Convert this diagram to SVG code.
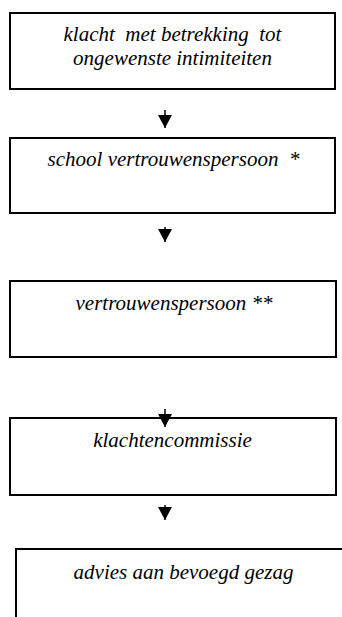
<svg xmlns="http://www.w3.org/2000/svg" width="342" height="617" viewBox="0 0 342 617">
  <style>
    .box { fill: #ffffff; stroke: #000000; stroke-width: 2; }
    .open { fill: none; stroke: #000000; stroke-width: 2; }
    .lbl { font-style: italic; font-size: 21px; fill: #000000; text-anchor: middle; white-space: pre; }
    .conn { stroke: #000000; stroke-width: 1.5; fill: none; marker-end: url(#arrow); }
  </style>
  <defs>
    <marker id="arrow" markerUnits="userSpaceOnUse" viewBox="0 0 13 14" refX="13" refY="7" markerWidth="13" markerHeight="14" orient="auto">
      <path d="M0,0 L13,7 L0,14 Z" fill="#000000"/>
    </marker>
  </defs>
  <rect width="342" height="617" fill="#ffffff"/>

  <g font-family="'Liberation Serif', 'Times New Roman', 'DejaVu Serif', serif" xml:space="preserve">
  <g id="node-klacht">
    <rect class="box" x="10" y="13" width="325" height="76"/>
    <text class="lbl" x="172.5" y="41">klacht  met betrekking  tot</text>
    <text class="lbl" x="172.5" y="65">ongewenste intimiteiten</text>
  </g>

  <g id="node-school">
    <rect class="box" x="10" y="138" width="325" height="75"/>
    <text class="lbl" x="173.5" y="166">school vertrouwenspersoon  *</text>
  </g>

  <g id="node-vertrouwenspersoon">
    <rect class="box" x="10" y="281" width="326" height="76"/>
    <text class="lbl" x="174" y="310">vertrouwenspersoon **</text>
  </g>

  <g id="node-klachtencommissie">
    <rect class="box" x="10" y="418" width="326" height="77"/>
    <text class="lbl" x="172.5" y="447">klachtencommissie</text>
  </g>

  <g id="node-advies">
    <path class="open" d="M16,617 V549 H342"/>
    <text class="lbl" x="183.5" y="579">advies aan bevoegd gezag</text>
  </g>
  </g>

  <g id="connectors">
    <path class="conn" d="M165,110 V128"/>
    <path class="conn" d="M165,227 V242"/>
    <path class="conn" d="M165,409 V427"/>
    <path class="conn" d="M165,505 V520"/>
  </g>
</svg>
